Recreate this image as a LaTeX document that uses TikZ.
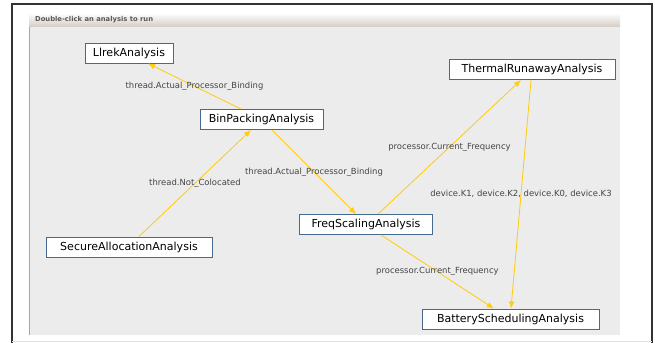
\documentclass[tikz,border=0pt]{standalone}
\usepackage{fontspec}
\setmainfont{DejaVu Sans}
\usetikzlibrary{arrows.meta}
\definecolor{boxline}{HTML}{45698F}
\definecolor{depline}{HTML}{FFCC11}
\definecolor{panelbg}{HTML}{ECECEC}
\definecolor{titlebot}{HTML}{D3CCC5}
\definecolor{labeltext}{HTML}{444444}
\begin{document}
\begin{tikzpicture}[
  x=0.03cm, y=-0.03cm,
  analysis/.style={draw=boxline, fill=white, line width=0.8pt, minimum height=0.6cm,
    inner sep=0pt, font=\fontsize{9.4}{10}\selectfont},
  dep/.style={draw=depline, line width=0.7pt, -{Latex[length=6pt,width=5pt]}},
  deplabel/.style={text=labeltext, inner sep=0pt, font=\fontsize{7.2}{8}\selectfont}
]
\useasboundingbox (0,0) rectangle (655,343);

% --- Window frame and panel ---
\fill[white] (0,0) rectangle (655,343);
\fill[panelbg] (29,27) rectangle (620,335);
\shade[top color=white, bottom color=titlebot] (29,13) rectangle (620,27);
\draw[gray!70, line width=0.6pt] (29,27) -- (29,335);
\draw[black!80, line width=0.9pt] (12,343) -- (12,4) -- (652,4) -- (652,343);
\draw[black!12, line width=0.6pt] (12,341) -- (652,341);
\node[anchor=west, text=black!65, font=\fontsize{5.8}{6}\selectfont\bfseries] (title) at (31,19.5) {Double-click an analysis to run};

% --- Analyses ---
\node[analysis, minimum width=2.64cm] (llrek) at (129,53) {LlrekAnalysis};
\node[analysis, minimum width=3.69cm] (binpack) at (261.5,119.5) {BinPackingAnalysis};
\node[analysis, minimum width=4.98cm] (thermal) at (532,69.5) {ThermalRunawayAnalysis};
\node[analysis, minimum width=4.98cm] (secure) at (129,247) {SecureAllocationAnalysis};
\node[analysis, minimum width=3.99cm] (freq) at (366,224.5) {FreqScalingAnalysis};
\node[analysis, minimum width=5.31cm] (battery) at (510.5,319) {BatterySchedulingAnalysis};

% --- Dependencies ---
\draw[dep] ([xshift=-0.615cm]binpack.north) -- node[deplabel] (l1) {thread.Actual\_Processor\_Binding} ([xshift=0.57cm]llrek.south);
\draw[dep] ([xshift=0.315cm]binpack.south) -- node[deplabel] (l2) {thread.Actual\_Processor\_Binding} ([xshift=-0.3cm]freq.north);
\draw[dep] ([xshift=0.3cm]secure.north) -- node[deplabel] (l3) {thread.Not\_Colocated} ([xshift=-0.315cm]binpack.south);
\draw[dep] ([xshift=0.36cm]freq.north) -- node[deplabel] (l4) {processor.Current\_Frequency} ([xshift=-0.33cm]thermal.south);
\draw[dep] ([xshift=-0.03cm]thermal.south) -- node[deplabel] (l5) {device.K1, device.K2, device.K0, device.K3} ([xshift=0.015cm]battery.north);
\draw[dep] ([xshift=0.45cm]freq.south) -- node[deplabel] (l6) {processor.Current\_Frequency} ([xshift=-0.5cm]battery.north);

\end{tikzpicture}
\end{document}
